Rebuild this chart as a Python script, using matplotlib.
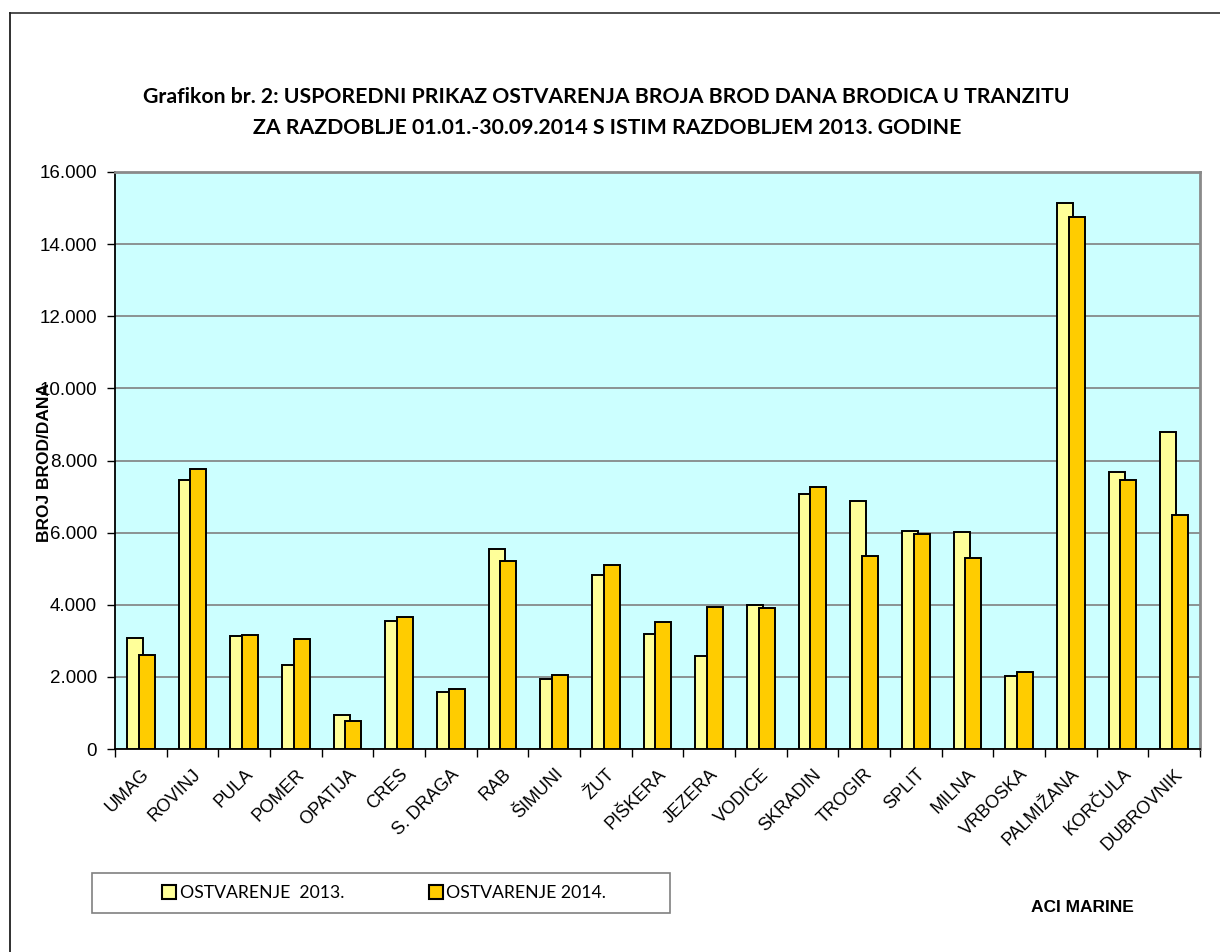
import matplotlib
matplotlib.use("Agg")
import matplotlib.pyplot as plt
import numpy as np
from matplotlib.patches import Patch, Rectangle
from matplotlib.lines import Line2D
from matplotlib.ticker import FuncFormatter, MultipleLocator

marine = ["UMAG", "ROVINJ", "PULA", "POMER", "OPATIJA", "CRES", "S. DRAGA",
          "RAB", "ŠIMUNI", "ŽUT", "PIŠKERA", "JEZERA", "VODICE", "SKRADIN",
          "TROGIR", "SPLIT", "MILNA", "VRBOSKA", "PALMIŽANA", "KORČULA",
          "DUBROVNIK"]
ostv_2013 = [3076, 7446, 3122, 2337, 951, 3538, 1580, 5552, 1931, 4831, 3196,
             2587, 4000, 7076, 6882, 6033, 6012, 2018, 15135, 7669, 8794]
ostv_2014 = [2614, 7751, 3169, 3048, 776, 3649, 1672, 5201, 2060, 5090, 3520,
             3945, 3898, 7270, 5358, 5969, 5300, 2124, 14753, 7467, 6500]
serije = ["OSTVARENJE  2013.", "OSTVARENJE 2014."]
boje = ["#FFFF99", "#FFCC00"]

plt.rcParams["font.family"] = ["Liberation Sans", "DejaVu Sans"]

W, H = 1220, 952
fig = plt.figure(figsize=(W / 100, H / 100), dpi=100)
ax = fig.add_axes([115 / W, 1 - 749 / H, 1085 / W, 577 / H])
ax.set_facecolor("#CCFFFF")

x = np.arange(len(marine))
ax.bar(x - 0.11, ostv_2013, width=0.31, color=boje[0], edgecolor="black",
       linewidth=1.4, zorder=3)
ax.bar(x + 0.11, ostv_2014, width=0.31, color=boje[1], edgecolor="black",
       linewidth=1.4, zorder=3)

ax.set_xlim(-0.5, len(marine) - 0.5)
ax.set_ylim(0, 16000)
ax.yaxis.set_major_locator(MultipleLocator(2000))
ax.yaxis.set_major_formatter(
    FuncFormatter(lambda v, _: f"{int(v):,}".replace(",", ".")))
ax.grid(axis="y", color="#808080", linewidth=1.2, zorder=1)
ax.tick_params(axis="y", direction="out", length=6, width=1, pad=7,
               labelsize=13.5)

ax.set_xticks(x)
ax.set_xticklabels(marine, rotation=45, ha="right", va="top",
                   rotation_mode="anchor", fontsize=13)
ax.set_xticks(np.arange(-0.5, len(marine)), minor=True)
ax.tick_params(axis="x", which="major", length=0, pad=12)
ax.tick_params(axis="x", which="minor", length=6, width=1, direction="out")

for s in ["left", "bottom"]:
    ax.spines[s].set_color("black")
    ax.spines[s].set_linewidth(1.3)
for s in ["top", "right"]:
    ax.spines[s].set_color("#8a8a8a")
    ax.spines[s].set_linewidth(2)

ax.set_ylabel("BROJ BROD/DANA", fontsize=12.5, fontweight="bold", va="center")
ax.yaxis.set_label_coords((45 - 115) / 1085, 0.496)

fig.text(606 / W, 1 - 97 / H,
         "Grafikon br. 2: USPOREDNI PRIKAZ OSTVARENJA BROJA BROD DANA BRODICA U TRANZITU",
         ha="center", va="center", fontsize=15.3, fontweight="bold", family="Lato")
fig.text(607 / W, 1 - 128 / H,
         "ZA RAZDOBLJE 01.01.-30.09.2014 S ISTIM RAZDOBLJEM 2013. GODINE",
         ha="center", va="center", fontsize=15.3, fontweight="bold", family="Lato")

# okvir legende
fig.add_artist(Rectangle((92 / W, 1 - 913 / H), 578 / W, 40 / H,
                         transform=fig.transFigure, facecolor="white",
                         edgecolor="#808080", linewidth=1.2))
ruke = [Patch(facecolor=boje[i], edgecolor="black", linewidth=1.5)
        for i in range(2)]
fig.legend(ruke, serije, loc="center", bbox_to_anchor=(384 / W, 1 - 893 / H),
           ncol=2, frameon=False, handlelength=0.8, handleheight=0.8,
           handletextpad=0.2, columnspacing=4.8,
           prop={"family": "Lato", "size": 12.7})

fig.text(1082 / W, 1 - 907 / H, "ACI MARINE", ha="center", va="center",
         fontsize=12.5, fontweight="bold")

# vanjski okvir
fig.add_artist(Line2D([9.5 / W, 1], [1 - 13 / H, 1 - 13 / H],
                      transform=fig.transFigure, color="#404040", linewidth=1.3))
fig.add_artist(Line2D([9.5 / W, 9.5 / W], [0, 1 - 13 / H],
                      transform=fig.transFigure, color="#202020", linewidth=1.3))

fig.savefig("out.png", dpi=100)
